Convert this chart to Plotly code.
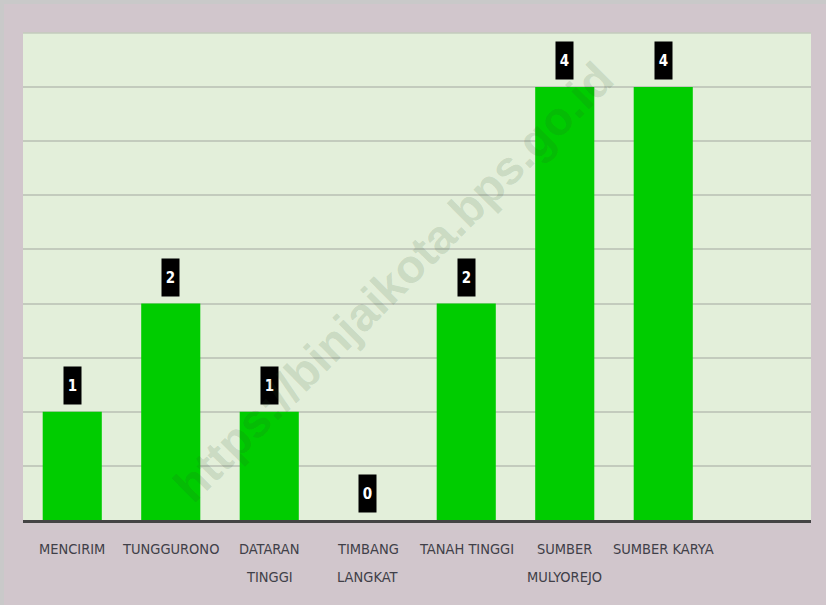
import plotly.graph_objects as go

categories = ["MENCIRIM", "TUNGGURONO", "DATARAN TINGGI", "TIMBANG LANGKAT",
              "TANAH TINGGI", "SUMBER MULYOREJO", "SUMBER KARYA"]
label_lines = [["MENCIRIM"], ["TUNGGURONO"], ["DATARAN", "TINGGI"], ["TIMBANG", "LANGKAT"],
               ["TANAH TINGGI"], ["SUMBER", "MULYOREJO"], ["SUMBER KARYA"]]
values = [1, 2, 1, 0, 2, 4, 4]

FONT = "Liberation Sans Narrow, DejaVu Sans Condensed, Arial Narrow, sans-serif"

fig = go.Figure()
fig.add_trace(go.Bar(
    x=list(range(len(categories))), y=values,
    width=0.6,
    marker=dict(color="#00cc00", line=dict(width=0)),
    hoverinfo="skip",
))

annotations = []
for i, v in enumerate(values):
    annotations.append(dict(
        x=i, y=v, xref="x", yref="y", text=f"<b>{v}</b>", showarrow=False,
        yanchor="bottom", yshift=7, bgcolor="#000000",
        font=dict(family=FONT, size=15, color="#ffffff"),
        width=15, height=35, borderpad=1,
    ))
for i, lines in enumerate(label_lines):
    for j, t in enumerate(lines):
        annotations.append(dict(
            x=i, y=0, xref="x", yref="paper", text=t, showarrow=False,
            yanchor="middle", yshift=-29 - 28 * j,
            font=dict(family=FONT, size=14.5, color="#404048"),
        ))
annotations.append(dict(
    x=0.47, y=0.49, xref="paper", yref="paper", text="<b>https://binjaikota.bps.go.id</b>",
    showarrow=False, textangle=-45,
    font=dict(family="Liberation Sans, Arial, sans-serif", size=47, color="rgba(40,80,40,0.14)"),
))

fig.update_layout(
    width=826, height=605,
    margin=dict(l=19, r=19, t=29, b=89),
    paper_bgcolor="#d1c6cc", plot_bgcolor="#e3efda",
    showlegend=False, bargap=0.4,
    annotations=annotations,
    xaxis=dict(range=[-0.5, 7.5], showticklabels=False, showgrid=False, zeroline=False,
               showline=True, linecolor="#444444", linewidth=3, ticks=""),
    yaxis=dict(range=[0, 4.5], dtick=0.5, showticklabels=False, showgrid=True,
               gridcolor="#c3cbbd", gridwidth=1.5, zeroline=False, ticks=""),
    shapes=[dict(type="line", xref="paper", yref="paper", x0=0, x1=1, y0=1, y1=1,
                 line=dict(color="#c3cbbd", width=1.5))],
)

fig.write_html(
    "out.html",
    post_script="document.body.style.margin='4px 0 0 4px';document.body.style.background='#c9c9c9';",
)
